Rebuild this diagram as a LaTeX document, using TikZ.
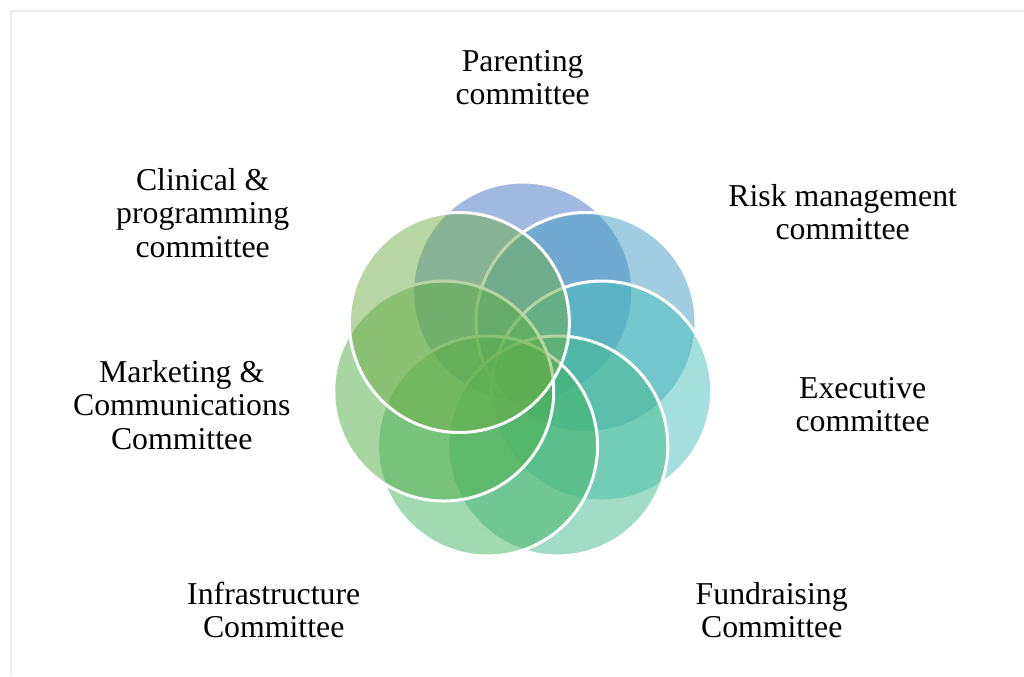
\documentclass[tikz,border=0pt]{standalone}
\usepackage{fontspec}
\setmainfont{Liberation Serif}
\usetikzlibrary{positioning}

\definecolor{parentingC}{HTML}{4472C4}
\definecolor{riskC}{HTML}{439BC1}
\definecolor{executiveC}{HTML}{49BFBB}
\definecolor{fundraisingC}{HTML}{43B98D}
\definecolor{infraC}{HTML}{43B363}
\definecolor{marketingC}{HTML}{4FAD47}
\definecolor{clinicalC}{HTML}{70AD47}

\tikzset{
  % Committee circles
  ringcircle/.style={
    circle, draw=white, line width=1.5pt,
    fill opacity=0.5, inner sep=0pt,
    minimum size=110pt
  },
  % Committee names
  ringlabel/.style={
    align=center, inner sep=0pt,
    font=\fontsize{15.9}{16.6}\selectfont
  },
  % Page frame
  frameline/.style={
    draw=black!7, line width=0.75pt
  },
}

\begin{document}
\begin{tikzpicture}[x=0.5pt, y=0.5pt]

  \useasboundingbox (-522.7,-303) rectangle (501.3,373);

  %% -- Frame --
  \draw[frameline] (-511.7,-303) -- (-511.7,362) -- (501.3,362);

  %% -- Circles, going clockwise from the top --
  \node[ringcircle, fill=parentingC]   (parenting)   at (90:81)      {};
  \node[ringcircle, fill=riskC]        (risk)        at (38.57:81)   {};
  \node[ringcircle, fill=executiveC]   (executive)   at (-12.86:81)  {};
  \node[ringcircle, fill=fundraisingC] (fundraising) at (-64.29:81)  {};
  \node[ringcircle, fill=infraC]       (infra)       at (-115.71:81) {};
  \node[ringcircle, fill=marketingC]   (marketing)   at (-167.14:81) {};
  \node[ringcircle, fill=clinicalC]    (clinical)    at (141.43:81)  {};

  %% -- Labels --
  \node[ringlabel] (parentingL)   at (0,295)     {Parenting\\committee};
  \node[ringlabel] (riskL)        at (320,161)   {Risk management\\committee};
  \node[ringlabel] (executiveL)   at (340,-32)   {Executive\\committee};
  \node[ringlabel] (fundraisingL) at (249,-237)  {Fundraising\\Committee};
  \node[ringlabel] (infraL)       at (-249,-237) {Infrastructure\\Committee};
  \node[ringlabel] (marketingL)   at (-341,-32)  {Marketing \&\\Communications\\Committee};
  \node[ringlabel] (clinicalL)    at (-320,160)  {Clinical \&\\programming\\committee};

\end{tikzpicture}
\end{document}
